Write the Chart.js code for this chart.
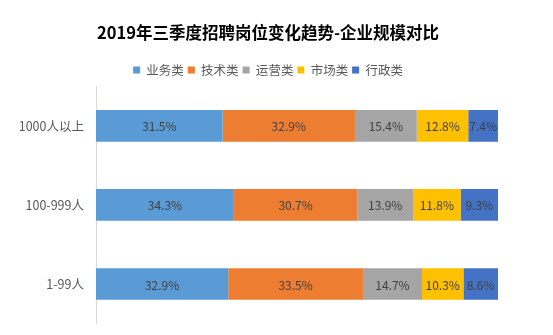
<!DOCTYPE html>
<html><head><meta charset="utf-8">
<script src="https://cdn.jsdelivr.net/npm/chart.js@4/dist/chart.umd.min.js"></script>
<style>html,body{margin:0;padding:0;background:#fff;}#wrap{width:553px;height:335px;}</style>
</head><body><div id="wrap"><canvas id="c" width="553" height="335"></canvas></div>
<script>
const categories = ['1000人以上', '100-999人', '1-99人'];
const seriesNames = ['业务类', '技术类', '运营类', '市场类', '行政类'];
const business = [31.5, 34.3, 32.9];
const tech = [32.9, 30.7, 33.5];
const operation = [15.4, 13.9, 14.7];
const marketing = [12.8, 11.8, 10.3];
const admin = [7.4, 9.3, 8.6];
const colors = ['#5B9BD5', '#ED7D31', '#A5A5A5', '#FFC000', '#4472C4'];
const FONT = '"Microsoft YaHei", "Noto Sans CJK SC", sans-serif';

const labelPlugin = {
  id: 'barLabels',
  afterDatasetsDraw(chart) {
    const ctx = chart.ctx;
    ctx.save();
    ctx.font = '12px ' + FONT;
    ctx.fillStyle = '#404040';
    ctx.textAlign = 'center';
    ctx.textBaseline = 'middle';
    chart.data.datasets.forEach((ds, i) => {
      chart.getDatasetMeta(i).data.forEach((bar, j) => {
        const p = bar.getCenterPoint();
        ctx.fillText(ds.data[j].toFixed(1) + '%', p.x, p.y + 1);
      });
    });
    ctx.restore();
  }
};

const allSeries = [business, tech, operation, marketing, admin];
new Chart(document.getElementById('c'), {
  type: 'bar',
  data: {
    labels: categories,
    datasets: allSeries.map((d, i) => ({
      label: seriesNames[i], data: d, backgroundColor: colors[i],
      barPercentage: 0.8, categoryPercentage: 0.5
    }))
  },
  options: {
    indexAxis: 'y',
    responsive: false,
    animation: false,
    layout: { padding: { left: 0, right: 17, top: 0, bottom: 11 } },
    scales: {
      x: { stacked: true, min: 0, max: 100, display: false },
      y: {
        stacked: true,
        grid: { display: false },
        border: { display: true, color: '#D9D9D9', width: 1 },
        ticks: { color: '#595959', font: { size: 12.5, family: FONT }, padding: 4 },
        afterFit(s) { s.width = 96; }
      },
      yRight: {
        position: 'right', display: true,
        grid: { display: false }, border: { display: false },
        ticks: { display: false },
        afterFit(s) { s.width = 38; }
      }
    },
    plugins: {
      title: {
        display: true, text: '2019年三季度招聘岗位变化趋势-企业规模对比',
        color: '#000000', font: { size: 16.5, weight: 'bold', family: FONT },
        padding: { top: 23, bottom: 17 }
      },
      legend: {
        display: true, position: 'top',
        labels: { boxWidth: 7, boxHeight: 7, color: '#595959', font: { size: 12.5, family: FONT }, padding: 4 }
      },
      tooltip: { enabled: false }
    }
  },
  plugins: [labelPlugin]
});
</script>
</body></html>
